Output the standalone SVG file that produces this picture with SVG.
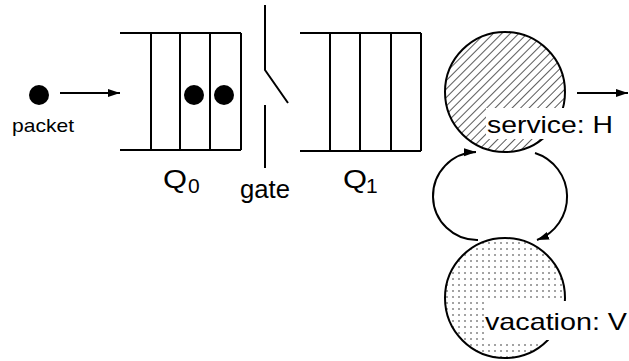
<svg xmlns="http://www.w3.org/2000/svg" width="629" height="361" viewBox="0 0 629 361">
<style>
.ln{stroke:#000;stroke-width:2;fill:none}
.t{font-family:"Liberation Sans",Arial,sans-serif;fill:#000}
</style>
<defs>
<marker id="ah" markerUnits="userSpaceOnUse" markerWidth="14" markerHeight="10" refX="12" refY="4" orient="auto"><path d="M0,0 L12,4 L0,8 z" fill="#000"/></marker>
<pattern id="hatch" patternUnits="userSpaceOnUse" width="6" height="6" patternTransform="rotate(45)"><rect width="6" height="6" fill="#fff"/><line x1="0" y1="0" x2="0" y2="6" stroke="#000" stroke-width="1.3"/></pattern>
<pattern id="dots" patternUnits="userSpaceOnUse" width="6" height="6"><rect width="6" height="6" fill="#fff"/><circle cx="3" cy="3" r="0.7" fill="#000"/></pattern>
</defs>
<rect width="629" height="361" fill="#fff"/>
<g id="packet">
<circle cx="39" cy="95" r="10" fill="#000"/>
<text class="t" x="12" y="132" font-size="18.5" textLength="62" lengthAdjust="spacingAndGlyphs">packet</text>
</g>
<g id="q0">
<path class="ln" d="M120,33 H241 M120,150 H241 M151,33 V150 M180,33 V150 M210,33 V150 M241,33 V150"/>
<circle cx="194" cy="95" r="10" fill="#000"/>
<circle cx="224" cy="95" r="10" fill="#000"/>
<text class="t" x="163" y="188" font-size="26" textLength="24" lengthAdjust="spacingAndGlyphs">Q</text>
<text class="t" x="188" y="193" font-size="21">0</text>
</g>
<g id="gate">
<path class="ln" d="M265,5 V70 L288,103 M265,105 V168"/>
<text class="t" x="240" y="198" font-size="25" textLength="50" lengthAdjust="spacingAndGlyphs">gate</text>
</g>
<g id="q1">
<path class="ln" d="M300,33 H421 M300,151 H421 M330,33 V151 M360,33 V151 M391,33 V151 M421,33 V151"/>
<text class="t" x="343" y="188" font-size="26" textLength="24" lengthAdjust="spacingAndGlyphs">Q</text>
<text class="t" x="366" y="193" font-size="21">1</text>
</g>
<g id="service">
<circle cx="505" cy="92" r="60" fill="url(#hatch)" stroke="#000" stroke-width="2"/>
<rect x="486" y="108" width="143" height="31" fill="#fff"/>
<text class="t" x="487" y="133" font-size="24" textLength="126" lengthAdjust="spacingAndGlyphs">service: H</text>
</g>
<g id="vacation">
<circle cx="505" cy="298" r="60" fill="url(#dots)" stroke="#000" stroke-width="2"/>
<rect x="485" y="301" width="144" height="39" fill="#fff"/>
<text class="t" x="485" y="330" font-size="24" textLength="142" lengthAdjust="spacingAndGlyphs">vacation: V</text>
</g>
<g id="connectors">
<line class="ln" x1="60" y1="93" x2="120" y2="93" marker-end="url(#ah)"/>
<line class="ln" x1="577" y1="93" x2="628" y2="93" marker-end="url(#ah)"/>
<path class="ln" d="M478,240 A44,44 0 0 1 476,152" marker-end="url(#ah)"/>
<path class="ln" d="M535,153 A46,46 0 0 1 537,240" marker-end="url(#ah)"/>
</g>
</svg>
